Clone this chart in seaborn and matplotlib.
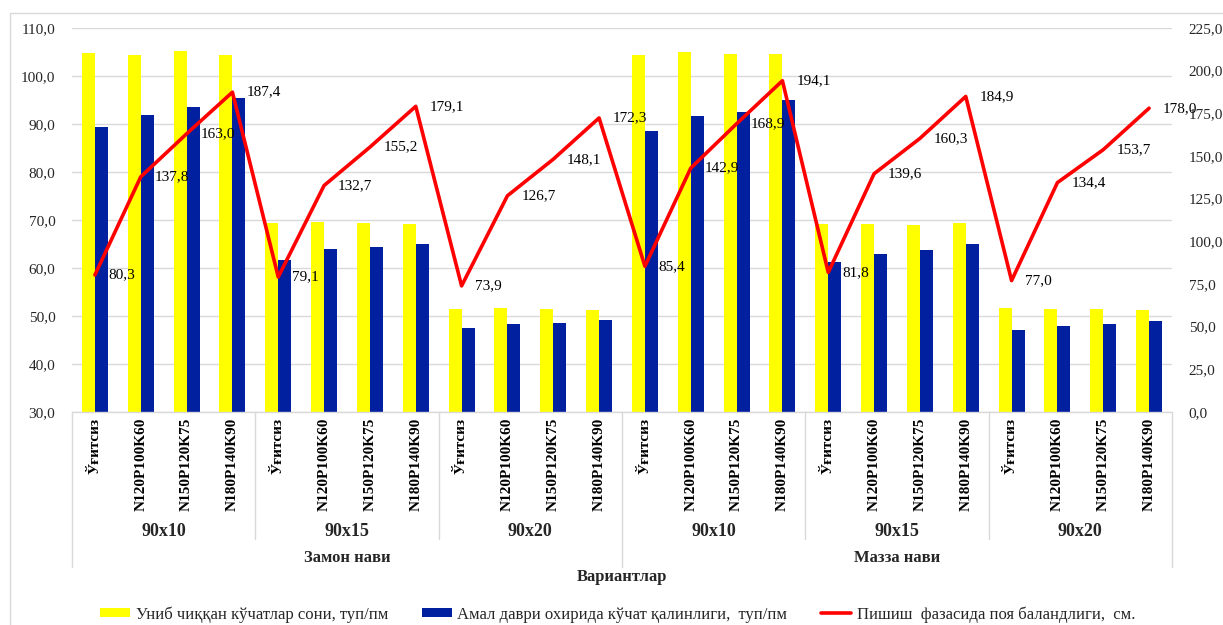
import numpy as np
import pandas as pd
import matplotlib
matplotlib.use("Agg")
import matplotlib.pyplot as plt
import seaborn as sns
from matplotlib.ticker import FuncFormatter, MultipleLocator
from matplotlib.lines import Line2D
from matplotlib.patches import Patch
import matplotlib.transforms as mtrans

# ---------------- data ----------------
varieties = ["Замон нави", "Мазза нави"]
spacings = ["90x10", "90x15", "90x20"]
fertilizers = ["Ўғитсиз", "N120P100K60", "N150P120K75", "N180P140K90"]

emerged = [104.8, 104.4, 105.3, 104.4,
           69.4, 69.5, 69.3, 69.1,
           51.5, 51.7, 51.5, 51.3,
           104.4, 104.9, 104.6, 104.6,
           69.1, 69.1, 68.9, 69.3,
           51.7, 51.5, 51.5, 51.3]
density = [89.4, 91.9, 93.5, 95.4,
           61.7, 63.9, 64.3, 65.1,
           47.4, 48.4, 48.6, 49.2,
           88.5, 91.7, 92.5, 95.1,
           61.2, 63.0, 63.7, 64.9,
           47.1, 48.0, 48.4, 49.0]
height = [80.3, 137.8, 163.0, 187.4,
          79.1, 132.7, 155.2, 179.1,
          73.9, 126.7, 148.1, 172.3,
          85.4, 142.9, 168.9, 194.1,
          81.8, 139.6, 160.3, 184.9,
          77.0, 134.4, 153.7, 178.0]

s1 = "Униб чиққан кўчатлар сони, туп/пм"
s2 = "Амал даври охирида кўчат қалинлиги,  туп/пм"
s3 = "Пишиш  фазасида поя баландлиги,  см."
x_title = "Вариантлар"

YELLOW = "#FFFF00"
BLUE = "#0020A0"
RED = "#FF0000"
GRID = "#D9D9D9"

# ---------------- plot ----------------
sns.set_theme(style="white")
plt.rcParams["font.family"] = ["Liberation Serif", "DejaVu Serif"]

W, H = 1223, 625
fig = plt.figure(figsize=(W / 100, H / 100), dpi=100)
ax = fig.add_axes([72 / W, 213 / H, 1100 / W, 384 / H])

n = len(emerged)
pos = [str(i) for i in range(n)]
df = pd.DataFrame({
    "pos": pos * 2,
    "value": emerged + density,
    "series": [s1] * n + [s2] * n,
})
sns.barplot(data=df, x="pos", y="value", hue="series", order=pos,
            hue_order=[s1, s2], palette=[YELLOW, BLUE], width=0.57, gap=0,
            saturation=1, errorbar=None, legend=False, ax=ax, linewidth=0)

ax.set_ylim(30, 110)
ax.yaxis.set_major_locator(MultipleLocator(10))
ax.yaxis.set_major_formatter(FuncFormatter(lambda v, p: f"{v:.1f}".replace(".", ",")))
ax.grid(axis="y", color=GRID, lw=1)
ax.set_axisbelow(True)
for s in ["top", "left", "right"]:
    ax.spines[s].set_visible(False)
ax.spines["bottom"].set_color(GRID)
ax.spines["bottom"].set_linewidth(1)
ax.tick_params(axis="both", length=0)
ax.tick_params(axis="y", labelsize=11, labelcolor="#262626", pad=12)
ax.set_xticks(range(n))
ax.set_xticklabels(fertilizers * (len(varieties) * len(spacings)),
                   rotation=90, fontweight="bold", fontsize=11, color="black")
ax.tick_params(axis="x", pad=4)
ax.set_xlabel("")
ax.set_ylabel("")

ax2 = ax.twinx()
sns.lineplot(x=np.arange(n), y=height, ax=ax2, color=RED, lw=2.6)
ax2.set_ylim(0, 225)
ax2.yaxis.set_major_locator(MultipleLocator(25))
ax2.yaxis.set_major_formatter(FuncFormatter(lambda v, p: f"{v:.1f}".replace(".", ",")))
for s in ax2.spines.values():
    s.set_visible(False)
ax2.tick_params(axis="y", length=0, labelsize=11, labelcolor="#262626", pad=12)
ax2.grid(False)
ax2.set_ylabel("")
ax.set_xlim(-0.5, n - 0.5)

for i, v in enumerate(height):
    ax2.annotate(f"{v:.1f}".replace(".", ","), (i, v), xytext=(10, 0),
                 textcoords="offset points", ha="left", va="center",
                 fontsize=11, color="black")

# multi-level category axis
trans = mtrans.blended_transform_factory(ax.transData, ax.transAxes)
ng = len(fertilizers)
nb = n // ng
for k in range(nb + 1):
    xb = k * ng - 0.5
    y_end = -0.404 if k % len(spacings) == 0 else -0.331
    ax.add_line(Line2D([xb, xb], [0, y_end], transform=trans, color=GRID,
                       lw=1, clip_on=False))
for k in range(nb):
    xc = k * ng + (ng - 1) / 2
    ax.text(xc, -0.31, spacings[k % len(spacings)], transform=trans,
            ha="center", va="center", fontsize=13, fontweight="bold")
gs = ng * len(spacings)
for j, name in enumerate(varieties):
    xc = j * gs + (gs - 1) / 2
    ax.text(xc, -0.380, name, transform=trans, ha="center", va="center",
            fontsize=12, fontweight="bold")
ax.text((n - 1) / 2, -0.430, x_title, transform=trans, ha="center",
        va="center", fontsize=12, fontweight="bold")

# legend
handles = [Patch(facecolor=YELLOW, edgecolor="none"),
           Patch(facecolor=BLUE, edgecolor="none"),
           Line2D([0], [0], color=RED, lw=2.6)]
fig.legend(handles, [s1, s2, s3], loc="center", bbox_to_anchor=(0.505, 0.017),
           ncol=3, frameon=False, fontsize=12, handlelength=1.8,
           handleheight=0.5, handletextpad=0.35, columnspacing=2.0)

# outer chart frame
fig.add_artist(Line2D([10 / W, 10 / W], [0, 1 - 13 / H], transform=fig.transFigure,
                      color=GRID, lw=1))
fig.add_artist(Line2D([10 / W, 1], [1 - 13 / H, 1 - 13 / H], transform=fig.transFigure,
                      color=GRID, lw=1))

fig.savefig("out.png", dpi=100)
